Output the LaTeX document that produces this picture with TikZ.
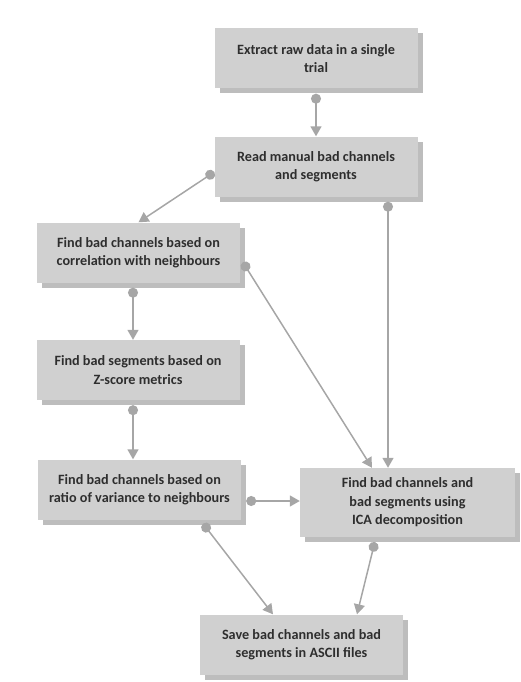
\documentclass[tikz,border=0pt]{standalone}
\usepackage{fontspec}
\setmainfont{Carlito}
\usetikzlibrary{arrows.meta,shadows}

\definecolor{boxgray}{HTML}{D0D0D0}
\definecolor{shadowgray}{HTML}{BDBDBD}
\definecolor{linegray}{HTML}{A6A6A6}
\definecolor{textgray}{HTML}{2E2E2E}

\begin{document}
\begin{tikzpicture}[x=1pt,y=-1pt]

      \useasboundingbox (0,0) rectangle (520,682);

      \begin{scope}[every node/.style={fill=boxgray, text=textgray, font=\fontsize{14.2}{18.5}\selectfont\bfseries,
          align=center, inner sep=0pt, minimum width=203pt, minimum height=60pt,
          general shadow={shadow xshift=5pt, shadow yshift=-5pt, fill=shadowgray}}]
        \node (1) at (316,58.5)   {Extract raw data in a single\\trial};
        \node (2) at (316,166.5)  {Read manual bad channels\\and segments};
        \node (3) at (138.5,252.5) {Find bad channels based on\\correlation with neighbours};
        \node (4) at (138,370)    {Find bad segments based on\\Z-score metrics};
        \node (5) at (139.5,489.5) {Find bad channels based on\\ratio of variance to neighbours};
        \node[minimum width=215pt, minimum height=69pt] (6) at (407.5,502.5)
          {Find bad channels and\\bad segments using\\ICA decomposition};
        \node (7) at (301.5,644.5) {Save bad channels and bad\\segments in ASCII files};
      \end{scope}

      \begin{scope}[every edge/.style={draw=linegray, line width=1.5pt,
          {Circle[length=10pt]}-{Triangle[length=10pt,width=11pt]}}]
        \path (1.south) edge[shorten <=5pt] (2.north);
        \path ([yshift=-5.5pt]2.west) edge (3.north);
        \path ([xshift=72pt]2.south) edge[shorten <=5pt] ([xshift=-19.5pt]6.north);
        \path ([xshift=-5.5pt]3.south) edge[shorten <=5pt] ([xshift=-5pt]4.north);
        \path ([yshift=-5.5pt]3.east) edge[shorten <=5pt] ([xshift=-35.5pt]6.north);
        \path ([xshift=-5pt]4.south) edge[shorten <=5pt] ([xshift=-6.5pt]5.north);
        \path ([yshift=-11.5pt]5.east) edge[shorten <=5pt] ([yshift=1.5pt]6.west);
        \path ([xshift=60.5pt]5.south) edge[shorten <=5pt] ([xshift=-28.5pt]7.north);
        \path ([xshift=-31.5pt]6.south) edge[shorten <=5pt] ([xshift=55.5pt]7.north);
      \end{scope}

    \end{tikzpicture}
\end{document}
